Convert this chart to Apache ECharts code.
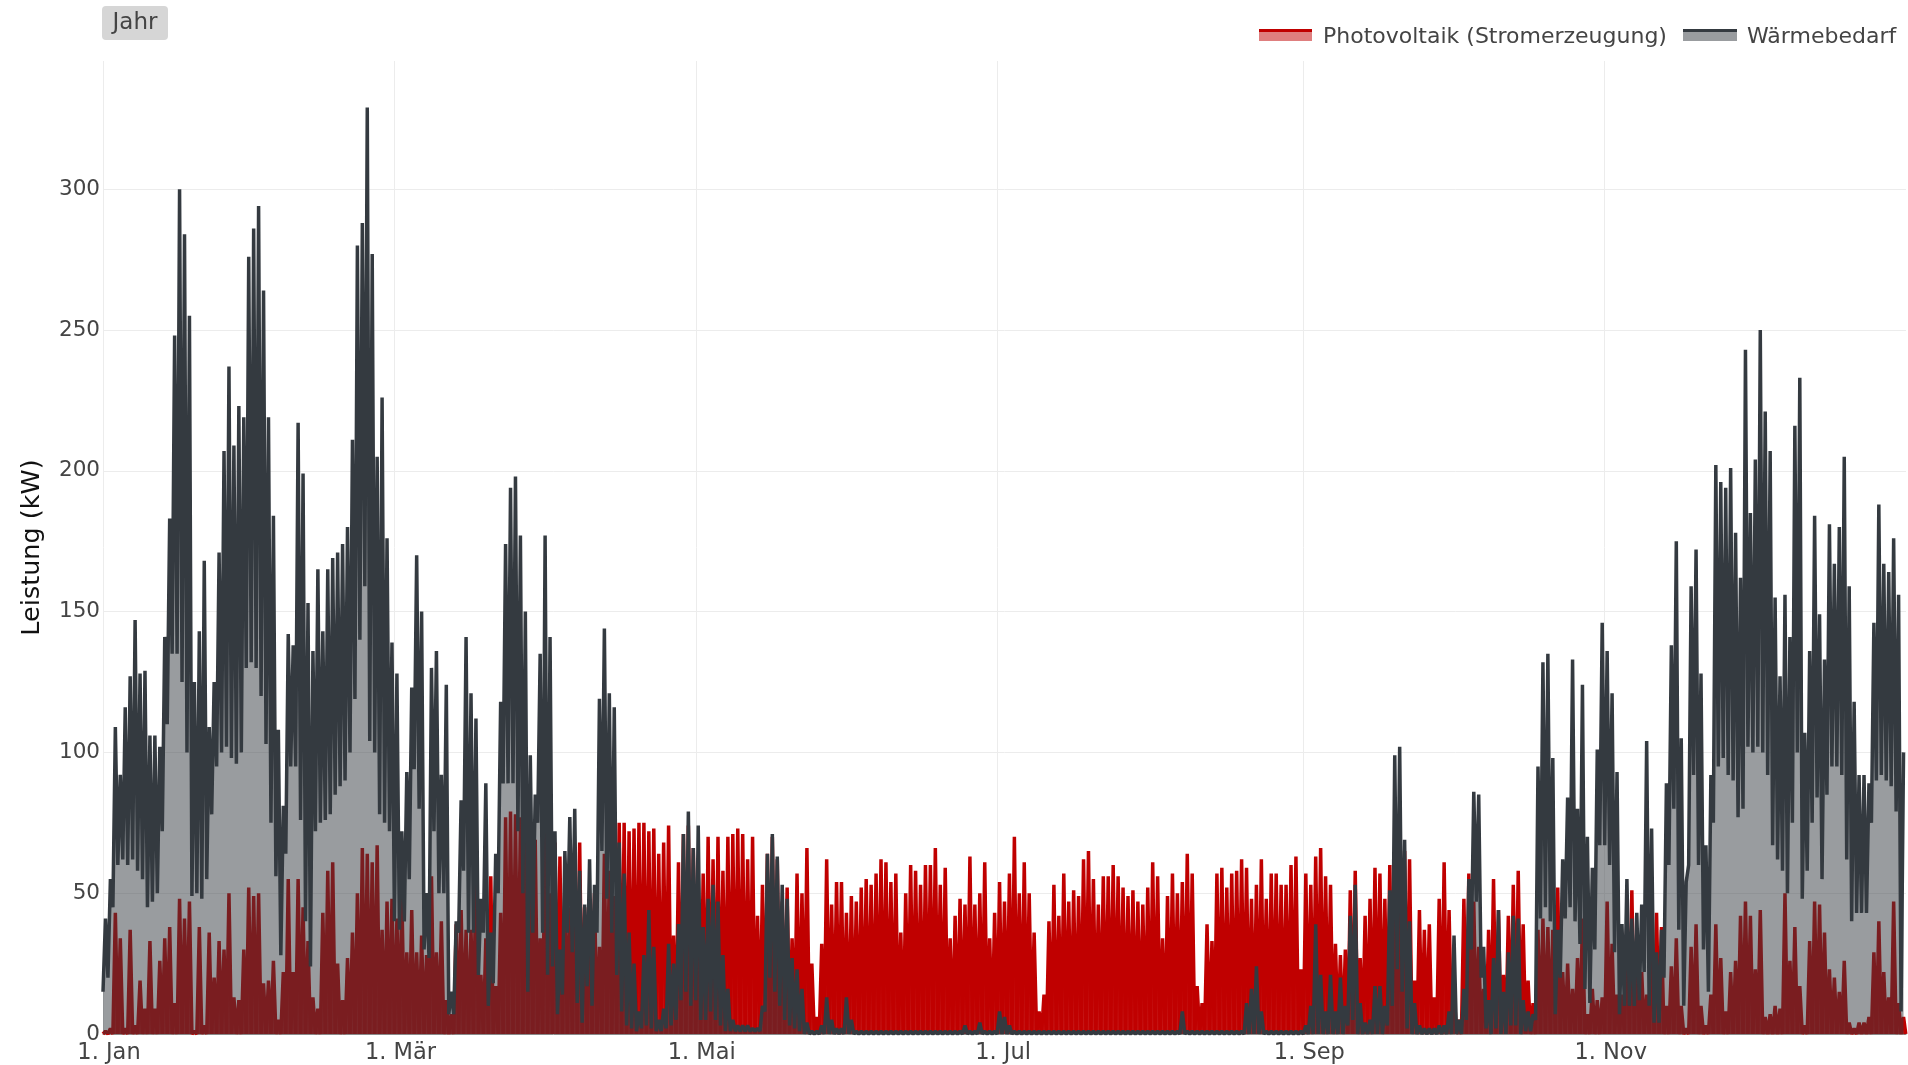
<!DOCTYPE html>
<html>
<head>
<meta charset="utf-8">
<title>Leistung</title>
<script src="https://cdn.jsdelivr.net/npm/echarts@6/dist/echarts.min.js"></script>
<style>
  html, body { margin: 0; padding: 0; background: #ffffff; }
  #chart { width: 1908px; height: 1065px; }
</style>
</head>
<body>
<div id="chart"></div>
<script>
// Month starts shown on the time axis (day of year, 0 = 1 Jan) and their labels
const tickDays = [0, 59, 120, 181, 243, 304];
const tickLabels = ['1. Jan', '1. Mär', '1. Mai', '1. Jul', '1. Sep', '1. Nov'];
const yTicks = [0, 50, 100, 150, 200, 250, 300];
const seriesNames = ['Photovoltaik (Stromerzeugung)', 'Wärmebedarf'];

// Photovoltaik: daily peak output in kW (one value per day, 1 Jan .. 31 Dec)
const pvPeak = [
  1, 2, 43, 34, 2, 37, 3, 19, 9, 33,
  9, 26, 34, 38, 11, 48, 41, 47, 1, 38,
  3, 36, 20, 33, 30, 50, 13, 12, 30, 52,
  49, 50,
  18, 19, 26, 5, 22, 55, 22, 55, 45, 33,
  13, 9, 43, 58, 61, 25, 12, 27, 36, 50,
  66, 64, 61, 67, 37, 47, 48, 41,
  50, 29, 44, 29, 35, 28, 56, 29, 40, 12,
  7, 39, 44, 37, 37, 61, 21, 34, 56, 17,
  43, 77, 79, 78, 77, 74, 62, 69, 34, 76,
  50, 68, 63, 53, 45, 59, 68, 45, 47, 50,
  31, 64, 58, 49, 75,
  75, 72, 73, 75, 75, 72, 73, 64, 68, 74,
  35, 61, 71, 74, 66, 57, 57, 70, 62, 70,
  58, 70, 71, 73, 71, 62, 70, 42, 53, 64,
  70, 62, 47, 52, 34, 57, 50, 66, 25, 6,
  32, 62, 46, 54, 54, 43, 49,
  47, 52, 55, 53, 57, 62, 61, 54, 57, 36,
  50, 60, 58, 53, 60, 60, 66, 53, 59, 34,
  42, 48, 46, 63, 46, 50, 61, 34, 43, 54,
  47, 57, 70, 50, 61, 50, 36, 8, 14, 40,
  53, 42, 57,
  47, 51, 49, 62, 65, 55, 46, 56, 56, 60,
  56, 52, 49, 51, 47, 46, 52, 61, 56, 34,
  49, 57, 50, 54, 64, 57, 17, 11, 39, 33,
  57, 59, 52, 57, 58, 62, 59, 48, 53, 62,
  48, 57, 57, 53, 53, 60, 63, 23,
  57, 53, 63, 66, 56, 53, 32, 28, 30, 51,
  58, 27, 42, 48, 59, 57, 48, 60, 62, 55,
  65, 62, 19, 44, 37, 39, 13, 48, 61, 44,
  16, 5, 48, 57, 47, 31, 16, 37, 55, 44,
  21, 42, 53, 58, 39,
  19, 11, 37, 41, 38, 37, 52, 22, 25, 16,
  27, 41, 7, 16, 12, 13, 47, 32, 14, 14,
  40, 51, 34, 22, 14, 32, 43, 38, 10, 24,
  34, 10, 2, 31, 39, 10,
  3, 14, 39, 27, 8, 22, 26, 42, 47, 42,
  23, 44, 6, 7, 10, 9, 50, 26, 38, 17,
  3, 33, 47, 46, 36, 23, 20, 15, 26, 4,
  2, 4, 4, 6, 29, 40, 22, 13, 47, 11,
  6
];

// Wärmebedarf: daily maximum in kW
const heatMax = [
  41, 55, 109, 92, 116, 127, 147, 128, 129, 106,
  106, 102, 141, 183, 248, 300, 284, 255, 125, 143,
  168, 109, 125, 171, 207, 237, 209, 223, 219, 276,
  286, 294,
  264, 219, 184, 108, 81, 142, 138, 217, 199, 153,
  136, 165, 143, 165, 169, 171, 174, 180, 211, 280,
  288, 329, 277, 205, 226, 176, 139, 128,
  72, 93, 123, 170, 150, 50, 130, 136, 92, 124,
  15, 40, 83, 141, 121, 112, 48, 89, 36, 64,
  118, 174, 194, 198, 177, 150, 99, 85, 135, 177,
  141, 72, 30, 65, 77, 80, 58, 46, 62, 53,
  119, 144, 121, 116, 68,
  57, 36, 25, 8, 28, 44, 31, 5, 9, 32,
  25, 39, 71, 79, 66, 74, 38, 48, 53, 47,
  28, 16, 5, 3, 3, 3, 2, 2, 10, 64,
  71, 63, 53, 48, 27, 23, 16, 4, 1, 1,
  3, 13, 5, 2, 2, 13, 5,
  1, 1, 1, 1, 1, 1, 1, 1, 1, 1,
  1, 1, 1, 1, 1, 1, 1, 1, 1, 1,
  1, 1, 3, 1, 1, 4, 1, 1, 1, 8,
  6, 3, 1, 1, 1, 1, 1, 1, 1, 1,
  1, 1, 1,
  1, 1, 1, 1, 1, 1, 1, 1, 1, 1,
  1, 1, 1, 1, 1, 1, 1, 1, 1, 1,
  1, 1, 1, 8, 1, 1, 1, 1, 1, 1,
  1, 1, 1, 1, 1, 1, 11, 16, 24, 8,
  1, 1, 1, 1, 1, 1, 1, 1,
  3, 10, 39, 21, 8, 21, 8, 20, 10, 42,
  53, 11, 4, 5, 17, 17, 10, 51, 99, 102,
  69, 40, 11, 3, 2, 2, 2, 3, 3, 8,
  35, 5, 16, 55, 86, 85, 31, 12, 27, 44,
  15, 29, 42, 41, 12,
  8, 7, 95, 132, 135, 98, 37, 62, 84, 133,
  80, 124, 70, 59, 101, 146, 136, 121, 93, 39,
  55, 41, 43, 46, 104, 73, 29, 37, 89, 138,
  175, 105, 54, 159, 172, 128,
  67, 92, 202, 196, 194, 201, 178, 162, 243, 185,
  204, 250, 221, 207, 155, 127, 156, 141, 216, 233,
  107, 136, 184, 149, 133, 181, 167, 180, 205, 159,
  118, 92, 92, 89, 146, 188, 167, 164, 176, 156,
  100
];

// Wärmebedarf: overnight minimum in kW (at the start of each day)
const heatMin = [
  15, 20, 45, 60, 62, 60, 62, 58, 55, 45,
  47, 50, 72, 110, 135, 135, 125, 100, 49, 50,
  48, 55, 78, 95, 100, 102, 98, 96, 100, 130,
  132, 130,
  120, 103, 75, 56, 28, 64, 95, 95, 76, 40,
  24, 72, 75, 76, 78, 85, 88, 90, 100, 119,
  140, 159, 104, 100, 78, 75, 72, 40,
  37, 40, 55, 94, 80, 30, 27, 72, 50, 50,
  7, 7, 36, 58, 36, 36, 21, 36, 10, 18,
  50, 89, 89, 89, 72, 50, 15, 36, 75, 36,
  21, 24, 7, 14, 36, 29, 11, 4, 17, 10,
  36, 65, 48, 36, 21,
  8, 3, 2, 1, 2, 3, 2, 1, 1, 2,
  3, 5, 12, 15, 10, 12, 5, 5, 8, 5,
  3, 1, 1, 1, 1, 1, 1, 1, 1, 8,
  20, 15, 10, 5, 3, 2, 1, 0, 0, 0,
  0, 0, 0, 0, 0, 0, 0,
  0, 0, 0, 0, 0, 0, 0, 0, 0, 0,
  0, 0, 0, 0, 0, 0, 0, 0, 0, 0,
  0, 0, 0, 0, 0, 0, 0, 0, 0, 0,
  0, 0, 0, 0, 0, 0, 0, 0, 0, 0,
  0, 0, 0,
  0, 0, 0, 0, 0, 0, 0, 0, 0, 0,
  0, 0, 0, 0, 0, 0, 0, 0, 0, 0,
  0, 0, 0, 0, 0, 0, 0, 0, 0, 0,
  0, 0, 0, 0, 0, 0, 0, 0, 0, 0,
  0, 0, 0, 0, 0, 0, 0, 0,
  0, 0, 0, 0, 0, 0, 0, 0, 0, 3,
  5, 0, 0, 0, 0, 0, 0, 3, 10, 23,
  15, 2, 0, 0, 0, 0, 0, 0, 0, 0,
  0, 0, 0, 5, 30, 47, 20, 2, 0, 2,
  0, 0, 3, 3, 0,
  1, 1, 5, 41, 45, 40, 7, 20, 41, 45,
  40, 32, 16, 11, 30, 67, 67, 60, 29, 7,
  10, 10, 10, 12, 22, 10, 4, 4, 20, 60,
  80, 37, 10, 60, 92, 60,
  30, 15, 75, 95, 98, 92, 90, 77, 80, 102,
  100, 102, 100, 92, 67, 62, 58, 50, 75, 100,
  48, 58, 75, 84, 55, 85, 95, 95, 92, 62,
  40, 43, 43, 43, 75, 90, 92, 90, 88, 79,
  8
];

// Hour-of-year points: night (00:00) and midday (12:00) of every day
const HOURS_PER_DAY = 24;
const pvData = [];
const heatData = [];
for (let d = 0; d < pvPeak.length; d++) {
  pvData.push([d * HOURS_PER_DAY, 0], [d * HOURS_PER_DAY + 12, pvPeak[d]]);
  heatData.push([d * HOURS_PER_DAY, heatMin[d]], [d * HOURS_PER_DAY + 12, heatMax[d]]);
}
pvData.push([pvPeak.length * HOURS_PER_DAY - 1, 0]);

const tickHours = tickDays.map(d => d * HOURS_PER_DAY);

const FONT = '"DejaVu Sans", Verdana, sans-serif';
const TEXT = '#444444';
const RED = '#c00000';
const DARK = '#343a40';

const chart = echarts.init(document.getElementById('chart'), null, { renderer: 'canvas' });

chart.setOption({
  backgroundColor: '#ffffff',
  animation: false,
  grid: { left: 103, right: 2, top: 61, bottom: 30 },
  xAxis: {
    type: 'value',
    min: 0,
    max: pvPeak.length * HOURS_PER_DAY,
    axisLine: { show: true, onZero: false, lineStyle: { color: '#8a8a8a', width: 1 } },
    axisTick: { show: false, customValues: tickHours },
    axisLabel: {
      customValues: tickHours,
      formatter: v => tickLabels[tickHours.indexOf(v)] || '',
      color: TEXT,
      fontFamily: FONT,
      fontSize: 22.5,
      margin: 8,
      padding: [0, 0, 0, 12]
    },
    splitLine: { show: true, lineStyle: { color: '#ececec', width: 1 } }
  },
  yAxis: {
    type: 'value',
    min: 0,
    max: 345.5,
    interval: 50,
    name: 'Leistung (kW)',
    nameLocation: 'middle',
    nameRotate: 90,
    nameGap: 58,
    nameTextStyle: { color: '#111111', fontFamily: FONT, fontSize: 25.5 },
    axisLine: { show: false },
    axisTick: { show: false, customValues: yTicks },
    axisLabel: {
      customValues: yTicks,
      color: TEXT,
      fontFamily: FONT,
      fontSize: 21.5,
      margin: 3
    },
    splitLine: { show: true, lineStyle: { color: '#ececec', width: 1 } }
  },
  series: [
    {
      name: seriesNames[0],
      type: 'line',
      data: pvData,
      showSymbol: false,
      symbol: 'none',
      silent: true,
      lineStyle: { color: RED, width: 3.5 },
      areaStyle: { color: RED, opacity: 0.92 },
      z: 2
    },
    {
      name: seriesNames[1],
      type: 'line',
      data: heatData,
      showSymbol: false,
      symbol: 'none',
      silent: true,
      lineStyle: { color: DARK, width: 3.5 },
      areaStyle: { color: DARK, opacity: 0.5 },
      z: 3
    }
  ],
  graphic: [
    // range button
    { type: 'rect', shape: { x: 102, y: 6, width: 66, height: 34, r: 4 }, style: { fill: '#d6d6d6' }, silent: true },
    { type: 'text', x: 135, y: 23, style: { text: 'Jahr', fill: TEXT, font: '23px ' + FONT, align: 'center', verticalAlign: 'middle' }, silent: true },
    // legend: Photovoltaik
    { type: 'rect', shape: { x: 1259, y: 30, width: 53, height: 11 }, style: { fill: 'rgba(192,0,0,0.5)' }, silent: true },
    { type: 'line', shape: { x1: 1259, y1: 30.5, x2: 1312, y2: 30.5 }, style: { stroke: RED, lineWidth: 3 }, silent: true },
    { type: 'text', x: 1323, y: 37.5, style: { text: seriesNames[0], fill: TEXT, font: '22px ' + FONT, align: 'left', verticalAlign: 'middle' }, silent: true },
    // legend: Wärmebedarf
    { type: 'rect', shape: { x: 1683, y: 30, width: 54, height: 11 }, style: { fill: 'rgba(52,58,64,0.5)' }, silent: true },
    { type: 'line', shape: { x1: 1683, y1: 30.5, x2: 1737, y2: 30.5 }, style: { stroke: DARK, lineWidth: 3 }, silent: true },
    { type: 'text', x: 1747, y: 37.5, style: { text: seriesNames[1], fill: TEXT, font: '22px ' + FONT, align: 'left', verticalAlign: 'middle' }, silent: true }
  ]
});
</script>
</body>
</html>
